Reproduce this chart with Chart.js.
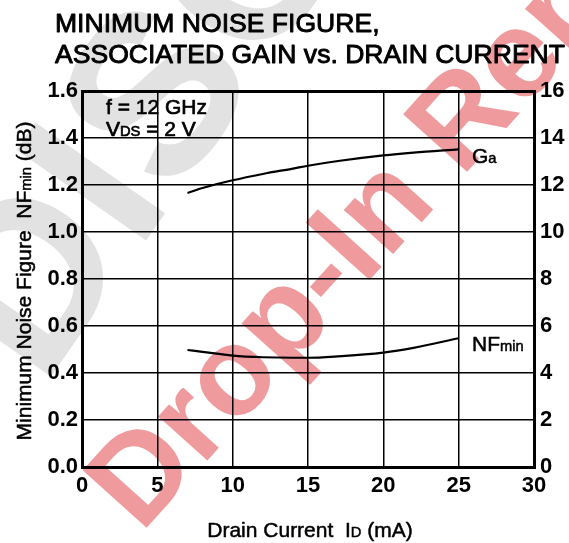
<!DOCTYPE html>
<html>
<head>
<meta charset="utf-8">
<script src="https://cdn.jsdelivr.net/npm/chart.js@4.4.1/dist/chart.umd.min.js"></script>
<style>
  html, body { margin: 0; padding: 0; background: #fff; }
  #wrap { width: 569px; height: 543px; }
</style>
</head>
<body>
<div id="wrap"><canvas id="chart" width="569" height="543"></canvas></div>
<script>
// drain current (mA)
const currentMA = [7, 8, 10, 12, 14, 15, 17, 20, 22, 25];
// minimum noise figure (dB), left axis
const nfMin = [0.498, 0.490, 0.474, 0.467, 0.465, 0.465, 0.471, 0.487, 0.507, 0.548];
// associated gain (dB), right axis
const gainA = [11.66, 11.87, 12.2, 12.47, 12.7, 12.82, 13.02, 13.26, 13.38, 13.52];

const xTicks = [0, 5, 10, 15, 20, 25, 30];
const nfTicks = [0, 0.2, 0.4, 0.6, 0.8, 1.0, 1.2, 1.4, 1.6];
const gaTicks = [0, 2, 4, 6, 8, 10, 12, 14, 16];

const FONT = '"Liberation Sans", Arial, Helvetica, sans-serif';

// text with smaller subscript part; a thin stroke gives a medium weight
function drawSub(ctx, parts, x, y, size, stroke) {
    let cx = x;
    parts.forEach(p => {
        const s = p.sub ? size * 0.7 : size;
        ctx.font = s + 'px ' + FONT;
        ctx.fillText(p.t, cx, y);
        if (stroke) {
            ctx.lineWidth = stroke;
            ctx.strokeText(p.t, cx, y);
        }
        cx += ctx.measureText(p.t).width;
    });
    return cx - x;
}
function measureSub(ctx, parts, size) {
    let w = 0;
    parts.forEach(p => {
        const s = p.sub ? size * 0.7 : size;
        ctx.font = s + 'px ' + FONT;
        w += ctx.measureText(p.t).width;
    });
    return w;
}

const watermark = {
    id: 'watermark',
    beforeDraw(chart) {
        const ctx = chart.ctx;
        ctx.save();
        ctx.fillStyle = '#e2e2e2';
        ctx.font = 'bold 230px ' + FONT;
        ctx.translate(42, 389);
        ctx.rotate(-55 * Math.PI / 180);
        ctx.fillText('DISCO', 0, 0);
        ctx.restore();

        ctx.save();
        ctx.fillStyle = '#ef9a9c';
        ctx.font = 'bold 125px ' + FONT;
        ctx.translate(141, 534);
        ctx.rotate(-48 * Math.PI / 180);
        ctx.fillText('Drop-In Replacement', 0, 0);
        ctx.restore();
    }
};

const labels = {
    id: 'labels',
    afterDraw(chart) {
        const ctx = chart.ctx;
        ctx.save();
        ctx.fillStyle = '#000';
        ctx.strokeStyle = '#000';
        ctx.lineJoin = 'round';
        ctx.textBaseline = 'alphabetic';

        // title, two lines, fitted to the reference width
        ctx.font = '26px ' + FONT;
        const t2 = 'ASSOCIATED GAIN vs. DRAIN CURRENT';
        const k = 510 / ctx.measureText(t2).width;
        ctx.save();
        ctx.translate(55, 0);
        ctx.scale(k, 1);
        ctx.lineWidth = 0.9;
        ctx.fillText('MINIMUM NOISE FIGURE,', 0, 32);
        ctx.strokeText('MINIMUM NOISE FIGURE,', 0, 32);
        ctx.fillText(t2, 0, 63);
        ctx.strokeText(t2, 0, 63);
        ctx.restore();

        // conditions
        drawSub(ctx, [{t: 'f = 12 GHz'}], 106, 114, 21, 0.7);
        drawSub(ctx, [{t: 'V'}, {t: 'DS', sub: true}, {t: ' = 2 V'}], 106, 136, 21, 0.7);

        // curve names
        drawSub(ctx, [{t: 'G'}, {t: 'a', sub: true}], 472, 163, 21, 0.5);
        drawSub(ctx, [{t: 'NF'}, {t: 'min', sub: true}], 472, 351, 21, 0.5);

        // x axis title
        const xParts = [{t: 'Drain Current  I'}, {t: 'D', sub: true}, {t: ' (mA)'}];
        const xw = measureSub(ctx, xParts, 21);
        drawSub(ctx, xParts, 310 - xw / 2, 537, 21, 0.5);

        // y axis title, rotated
        const yParts = [{t: 'Minimum Noise Figure  NF'}, {t: 'min', sub: true}, {t: ' (dB)'}];
        const yw = measureSub(ctx, yParts, 21);
        ctx.translate(31, 281);
        ctx.rotate(-Math.PI / 2);
        drawSub(ctx, yParts, -yw / 2, 0, 21, 0.5);
        ctx.restore();
    }
};

new Chart(document.getElementById('chart'), {
    type: 'line',
    data: {
        datasets: [{
            label: 'NFmin',
            data: currentMA.map((x, i) => ({x: x, y: nfMin[i]})),
            yAxisID: 'y',
            borderColor: '#000',
            borderWidth: 2.2,
            pointRadius: 0,
            fill: false,
            cubicInterpolationMode: 'monotone'
        }, {
            label: 'Ga',
            data: currentMA.map((x, i) => ({x: x, y: gainA[i]})),
            yAxisID: 'y2',
            borderColor: '#000',
            borderWidth: 2.2,
            pointRadius: 0,
            fill: false,
            cubicInterpolationMode: 'monotone'
        }]
    },
    options: {
        responsive: false,
        animation: false,
        layout: { padding: { top: 91, left: 0, right: 0, bottom: 0 } },
        plugins: {
            legend: { display: false },
            tooltip: { enabled: false },
            title: { display: false }
        },
        scales: {
            x: {
                type: 'linear',
                min: 0, max: 30,
                afterBuildTicks: s => { s.ticks = xTicks.map(v => ({value: v})); },
                afterFit: s => { s.height = 76; },
                grid: {
                    color: '#000',
                    lineWidth: c => (c.tick && (c.tick.value === 0 || c.tick.value === 30)) ? 3 : 1.5,
                    drawTicks: false
                },
                border: { display: true, color: '#000', width: 3 },
                ticks: {
                    color: '#000',
                    padding: 6,
                    font: { family: FONT, size: 22, weight: 'bold' }
                }
            },
            y: {
                position: 'left',
                min: 0, max: 1.6,
                afterBuildTicks: s => { s.ticks = nfTicks.map(v => ({value: v})); },
                afterFit: s => { s.width = 82; },
                grid: {
                    color: '#000',
                    lineWidth: c => (c.tick && (c.tick.value === 0 || c.tick.value === 1.6)) ? 3 : 1.5,
                    drawTicks: false
                },
                border: { display: true, color: '#000', width: 3 },
                ticks: {
                    color: '#000',
                    padding: 4,
                    font: { family: FONT, size: 22, weight: 'bold' },
                    callback: v => v.toFixed(1)
                }
            },
            y2: {
                position: 'right',
                min: 0, max: 16,
                afterBuildTicks: s => { s.ticks = gaTicks.map(v => ({value: v})); },
                afterFit: s => { s.width = 35; },
                grid: { drawOnChartArea: false, drawTicks: false },
                border: { display: true, color: '#000', width: 3 },
                ticks: {
                    color: '#000',
                    padding: 6,
                    font: { family: FONT, size: 22, weight: 'bold' },
                    callback: v => String(v)
                }
            }
        }
    },
    plugins: [watermark, labels]
});
</script>
</body>
</html>
